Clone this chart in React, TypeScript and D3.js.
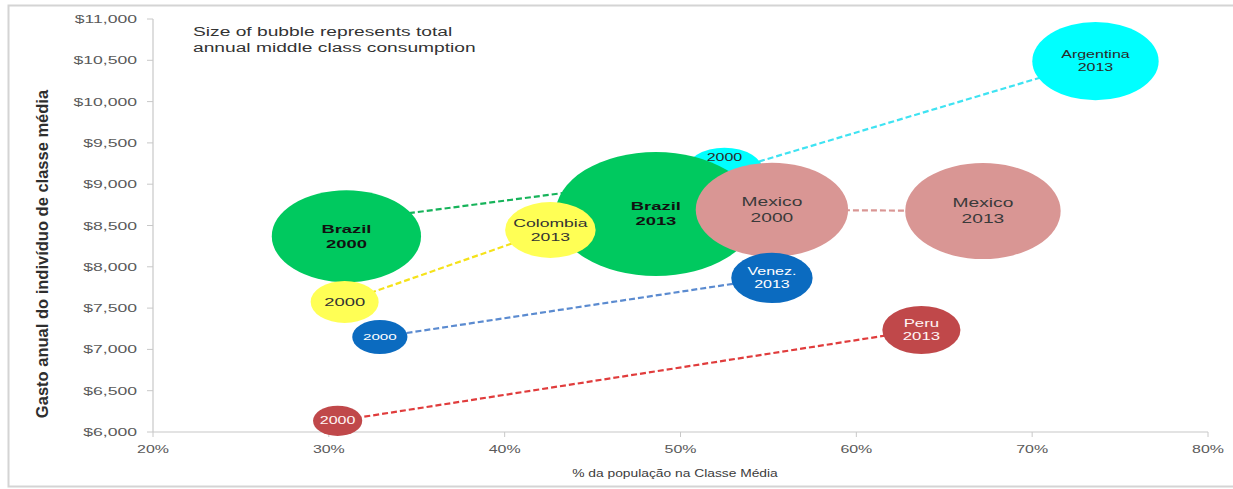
import React from 'react';
import * as d3 from 'd3';

// ---------- data ----------
const countries = ['Argentina', 'Brazil', 'Mexico', 'Colombia', 'Venezuela', 'Peru'];
const share2000 = [52.5, 31.0, 55.2, 30.9, 32.9, 30.5];
const share2013 = [73.6, 48.6, 67.2, 42.6, 55.2, 63.7];
const spend2000 = [9150, 8370, 8690, 7575, 7150, 6135];
const spend2013 = [10490, 8640, 8675, 8445, 7865, 7235];
const size2000 = [58, 212, 221, 44, 29, 23];
const size2013 = [152, 384, 230, 78, 63, 58];
const label2000 = ['2000', 'Brazil\n2000', 'Mexico\n2000', '2000', '2000', '2000'];
const label2013 = ['Argentina\n2013', 'Brazil\n2013', 'Mexico\n2013', 'Colombia\n2013', 'Venez.\n2013', 'Peru\n2013'];
const lineShift2000 = [0, 180, 0, 0, 0, 0];
const lineShift2013 = [0, 400, 0, 0, 0, 0];
const xTicks = [20, 30, 40, 50, 60, 70, 80];
const yTicks = [6000, 6500, 7000, 7500, 8000, 8500, 9000, 9500, 10000, 10500, 11000];
const noteLines = ['Size of bubble represents total', 'annual middle class consumption'];
const xTitle = '% da população na Classe Média';
const yTitle = 'Gasto anual do indivíduo de classe média';

// ---------- styles ----------
const STYLE: Record<string, any> = {
  Argentina: { fill: '#00FFFF', line: '#3FE3F2', text: '#2a2a2a', fs2000: 10, fs2013: 10, bold: false, dy2000: -14 },
  Brazil: { fill: '#00C95F', line: '#16B35A', text: '#111', fs2000: 11.5, fs2013: 11.5, bold: true, dy2000: 0 },
  Mexico: { fill: '#D99694', line: '#D99694', text: '#3a3a3a', fs2000: 12, fs2013: 12, bold: false, dy2000: 0 },
  Colombia: { fill: '#FFFF55', line: '#F5E21A', text: '#333', fs2000: 11.5, fs2013: 11, bold: false, dy2000: 0 },
  Venezuela: { fill: '#0B6BC0', line: '#5B8BD0', text: '#ffffff', fs2000: 9.5, fs2013: 10, bold: false, dy2000: 0 },
  Peru: { fill: '#C0484A', line: '#E03C3C', text: '#fff5f5', fs2000: 10, fs2013: 10.5, bold: false, dy2000: 0 },
};
const FONT = '"Liberation Sans", Arial, sans-serif';
const SX = 1.6;
const ASPECT = 1.62;

const W = 1233;
const H = 489;
const x = d3.scaleLinear().domain([20, 80]).range([153, 1208]);
const y = d3.scaleLinear().domain([6000, 11000]).range([432, 19]);
const r = d3.scaleSqrt().domain([0, 384]).range([0, 62]);
const fmtDollar = (v: number) => '$' + d3.format(',')(v);

function SText({ x0, y0, children, anchor = 'start', size = 11, fill = '#595959', weight = 'normal', sx = SX }: any) {
  return (
    <text
      transform={`translate(${x0},${y0}) scale(${sx},1)`}
      textAnchor={anchor}
      fontSize={size}
      fill={fill}
      fontWeight={weight}
      fontFamily={FONT}
    >
      {children}
    </text>
  );
}

function BubbleLabel({ cx, cy, text, size, color, bold }: any) {
  const lines = text.split('\n');
  const lh = size * 1.3;
  const first = -((lines.length - 1) / 2) * lh + size * 0.35;
  return (
    <g>
      {lines.map((l: string, i: number) => (
        <SText key={i} x0={cx} y0={cy + first + i * lh} anchor="middle" size={size} fill={color} weight={bold ? 'bold' : 'normal'}>
          {l}
        </SText>
      ))}
    </g>
  );
}

export default function App() {
  const pts = countries.map((c, i) => ({
    c,
    s: STYLE[c],
    p0: { x: x(share2000[i]), y: y(spend2000[i]), ry: r(size2000[i]), label: label2000[i] },
    p1: { x: x(share2013[i]), y: y(spend2013[i]), ry: r(size2013[i]), label: label2013[i] },
    l0: { x: x(share2000[i]), y: y(spend2000[i] + lineShift2000[i]) },
    l1: { x: x(share2013[i]), y: y(spend2013[i] + lineShift2013[i]) },
  }));

  return (
    <svg width={W} height={H} style={{ position: 'absolute', left: 0, top: 0, background: '#fff' }}>
      <rect x={0} y={0} width={W} height={H} fill="#fff" />
      {/* outer frame */}
      <rect x={8.5} y={5.5} width={1236} height={481} fill="none" stroke="#d4d4d4" strokeWidth={2} />

      {/* axes */}
      <line x1={153} x2={153} y1={y(11000)} y2={y(6000)} stroke="#c8c8c8" strokeWidth={1.2} />
      <line x1={153} x2={x(80)} y1={432} y2={432} stroke="#c8c8c8" strokeWidth={1.2} />
      {yTicks.map((t) => (
        <g key={t}>
          <line x1={147} x2={153} y1={y(t)} y2={y(t)} stroke="#c8c8c8" />
          <SText x0={137} y0={y(t) + 4} anchor="end" size={11} fill="#5a5a5a">
            {fmtDollar(t)}
          </SText>
        </g>
      ))}
      {xTicks.map((t) => (
        <g key={t}>
          <line x1={x(t)} x2={x(t)} y1={432} y2={437} stroke="#c8c8c8" />
          <SText x0={x(t)} y0={453} anchor="middle" size={11} fill="#5a5a5a" sx={1.45}>
            {t + '%'}
          </SText>
        </g>
      ))}

      {/* axis titles */}
      <text
        transform={`translate(${48},${254}) rotate(-90)`}
        textAnchor="middle"
        fontSize={16.5}
        fontWeight="bold"
        fill="#2e2e2e"
        fontFamily={FONT}
      >
        {yTitle}
      </text>
      <SText x0={675} y0={477} anchor="middle" size={10} fill="#3c3c3c" sx={1.38}>
        {xTitle}
      </SText>

      {/* note */}
      {noteLines.map((l, i) => (
        <SText key={i} x0={193} y0={36 + i * 16} size={12} fill="#333">
          {l}
        </SText>
      ))}

      {/* connectors */}
      {pts.map((d) => (
        <line
          key={'l' + d.c}
          x1={d.l0.x}
          y1={d.l0.y}
          x2={d.l1.x}
          y2={d.l1.y}
          stroke={d.s.line}
          strokeWidth={2.2}
          strokeDasharray="6,3"
        />
      ))}

      {/* bubbles */}
      {pts.map((d) => (
        <g key={'b' + d.c}>
          <ellipse cx={d.p0.x} cy={d.p0.y} rx={d.p0.ry * ASPECT} ry={d.p0.ry} fill={d.s.fill} />
          <ellipse cx={d.p1.x} cy={d.p1.y} rx={d.p1.ry * ASPECT} ry={d.p1.ry} fill={d.s.fill} />
        </g>
      ))}

      {/* labels */}
      {pts.map((d) => (
        <g key={'t' + d.c}>
          <BubbleLabel cx={d.p0.x} cy={d.p0.y + d.s.dy2000} text={d.p0.label} size={d.s.fs2000} color={d.s.text} bold={d.s.bold} />
          <BubbleLabel cx={d.p1.x} cy={d.p1.y} text={d.p1.label} size={d.s.fs2013} color={d.s.text} bold={d.s.bold} />
        </g>
      ))}
    </svg>
  );
}
